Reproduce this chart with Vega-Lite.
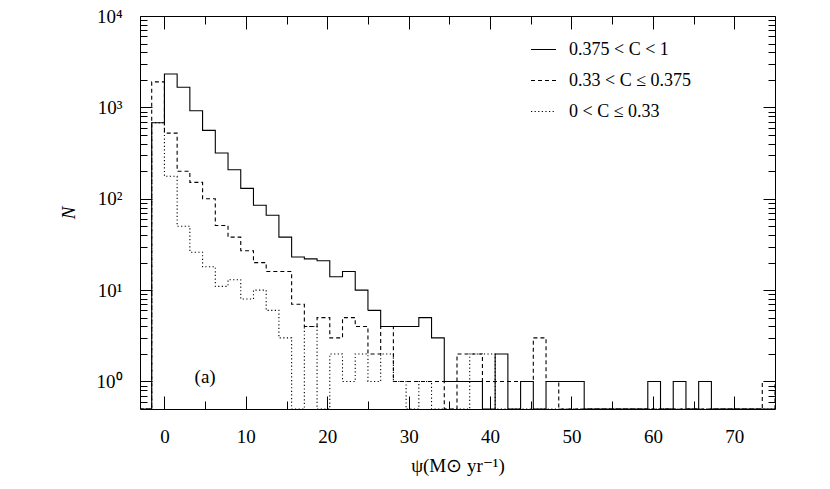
{
  "$schema": "https://vega.github.io/schema/vega-lite/v6.json",
  "width": 635,
  "height": 393,
  "autosize": {"type": "none"},
  "padding": {"left": 140, "top": 16, "right": 55, "bottom": 80},
  "config": {
    "view": {"stroke": "#000", "strokeWidth": 1},
    "font": "Liberation Serif",
    "axis": {
      "domain": false, "grid": false, "ticks": true,
      "tickColor": "#000", "tickWidth": 1, "tickOpacity": 1,
      "labelFont": "Liberation Serif", "labelFontSize": 19, "labelColor": "#000",
      "titleFont": "Liberation Serif", "titleFontSize": 19, "titleFontWeight": "normal", "titleColor": "#000"
    }
  },
  "layer": [
    {
      "data": {"values": [
        {"s": "0.375 < C < 1", "x": -3.125, "n": 0},
        {"s": "0.375 < C < 1", "x": -1.5625, "n": 680},
        {"s": "0.375 < C < 1", "x": 0, "n": 2320},
        {"s": "0.375 < C < 1", "x": 1.5625, "n": 1660},
        {"s": "0.375 < C < 1", "x": 3.125, "n": 920},
        {"s": "0.375 < C < 1", "x": 4.6875, "n": 560},
        {"s": "0.375 < C < 1", "x": 6.25, "n": 317},
        {"s": "0.375 < C < 1", "x": 7.8125, "n": 208},
        {"s": "0.375 < C < 1", "x": 9.375, "n": 130},
        {"s": "0.375 < C < 1", "x": 10.9375, "n": 85},
        {"s": "0.375 < C < 1", "x": 12.5, "n": 66},
        {"s": "0.375 < C < 1", "x": 14.0625, "n": 38},
        {"s": "0.375 < C < 1", "x": 15.625, "n": 23},
        {"s": "0.375 < C < 1", "x": 17.1875, "n": 22},
        {"s": "0.375 < C < 1", "x": 18.75, "n": 21},
        {"s": "0.375 < C < 1", "x": 20.3125, "n": 14},
        {"s": "0.375 < C < 1", "x": 21.875, "n": 16},
        {"s": "0.375 < C < 1", "x": 23.4375, "n": 10},
        {"s": "0.375 < C < 1", "x": 25, "n": 6},
        {"s": "0.375 < C < 1", "x": 26.5625, "n": 4},
        {"s": "0.375 < C < 1", "x": 28.125, "n": 4},
        {"s": "0.375 < C < 1", "x": 29.6875, "n": 4},
        {"s": "0.375 < C < 1", "x": 31.25, "n": 5},
        {"s": "0.375 < C < 1", "x": 32.8125, "n": 3},
        {"s": "0.375 < C < 1", "x": 34.375, "n": 1},
        {"s": "0.375 < C < 1", "x": 35.9375, "n": 1},
        {"s": "0.375 < C < 1", "x": 37.5, "n": 1},
        {"s": "0.375 < C < 1", "x": 39.0625, "n": 0},
        {"s": "0.375 < C < 1", "x": 40.625, "n": 2},
        {"s": "0.375 < C < 1", "x": 42.1875, "n": 0},
        {"s": "0.375 < C < 1", "x": 43.75, "n": 1},
        {"s": "0.375 < C < 1", "x": 45.3125, "n": 0},
        {"s": "0.375 < C < 1", "x": 46.875, "n": 1},
        {"s": "0.375 < C < 1", "x": 48.4375, "n": 1},
        {"s": "0.375 < C < 1", "x": 50, "n": 1},
        {"s": "0.375 < C < 1", "x": 51.5625, "n": 0},
        {"s": "0.375 < C < 1", "x": 53.125, "n": 0},
        {"s": "0.375 < C < 1", "x": 54.6875, "n": 0},
        {"s": "0.375 < C < 1", "x": 56.25, "n": 0},
        {"s": "0.375 < C < 1", "x": 57.8125, "n": 0},
        {"s": "0.375 < C < 1", "x": 59.375, "n": 1},
        {"s": "0.375 < C < 1", "x": 60.9375, "n": 0},
        {"s": "0.375 < C < 1", "x": 62.5, "n": 1},
        {"s": "0.375 < C < 1", "x": 64.0625, "n": 0},
        {"s": "0.375 < C < 1", "x": 65.625, "n": 1},
        {"s": "0.375 < C < 1", "x": 67.1875, "n": 0},
        {"s": "0.375 < C < 1", "x": 68.75, "n": 0},
        {"s": "0.375 < C < 1", "x": 70.3125, "n": 0},
        {"s": "0.375 < C < 1", "x": 71.875, "n": 0},
        {"s": "0.375 < C < 1", "x": 73.4375, "n": 0},
        {"s": "0.375 < C < 1", "x": 75, "n": 0},

        {"s": "0.33 < C ≤ 0.375", "x": -3.125, "n": 0},
        {"s": "0.33 < C ≤ 0.375", "x": -1.5625, "n": 1900},
        {"s": "0.33 < C ≤ 0.375", "x": 0, "n": 523},
        {"s": "0.33 < C ≤ 0.375", "x": 1.5625, "n": 200},
        {"s": "0.33 < C ≤ 0.375", "x": 3.125, "n": 151},
        {"s": "0.33 < C ≤ 0.375", "x": 4.6875, "n": 100},
        {"s": "0.33 < C ≤ 0.375", "x": 6.25, "n": 51},
        {"s": "0.33 < C ≤ 0.375", "x": 7.8125, "n": 38},
        {"s": "0.33 < C ≤ 0.375", "x": 9.375, "n": 27},
        {"s": "0.33 < C ≤ 0.375", "x": 10.9375, "n": 20},
        {"s": "0.33 < C ≤ 0.375", "x": 12.5, "n": 16},
        {"s": "0.33 < C ≤ 0.375", "x": 14.0625, "n": 16},
        {"s": "0.33 < C ≤ 0.375", "x": 15.625, "n": 7},
        {"s": "0.33 < C ≤ 0.375", "x": 17.1875, "n": 4},
        {"s": "0.33 < C ≤ 0.375", "x": 18.75, "n": 5},
        {"s": "0.33 < C ≤ 0.375", "x": 20.3125, "n": 3},
        {"s": "0.33 < C ≤ 0.375", "x": 21.875, "n": 5},
        {"s": "0.33 < C ≤ 0.375", "x": 23.4375, "n": 4},
        {"s": "0.33 < C ≤ 0.375", "x": 25, "n": 2},
        {"s": "0.33 < C ≤ 0.375", "x": 26.5625, "n": 4},
        {"s": "0.33 < C ≤ 0.375", "x": 28.125, "n": 1},
        {"s": "0.33 < C ≤ 0.375", "x": 29.6875, "n": 1},
        {"s": "0.33 < C ≤ 0.375", "x": 31.25, "n": 1},
        {"s": "0.33 < C ≤ 0.375", "x": 32.8125, "n": 1},
        {"s": "0.33 < C ≤ 0.375", "x": 34.375, "n": 0},
        {"s": "0.33 < C ≤ 0.375", "x": 35.9375, "n": 2},
        {"s": "0.33 < C ≤ 0.375", "x": 37.5, "n": 2},
        {"s": "0.33 < C ≤ 0.375", "x": 39.0625, "n": 1},
        {"s": "0.33 < C ≤ 0.375", "x": 40.625, "n": 1},
        {"s": "0.33 < C ≤ 0.375", "x": 42.1875, "n": 1},
        {"s": "0.33 < C ≤ 0.375", "x": 43.75, "n": 1},
        {"s": "0.33 < C ≤ 0.375", "x": 45.3125, "n": 3},
        {"s": "0.33 < C ≤ 0.375", "x": 46.875, "n": 1},
        {"s": "0.33 < C ≤ 0.375", "x": 48.4375, "n": 0},
        {"s": "0.33 < C ≤ 0.375", "x": 50, "n": 0},
        {"s": "0.33 < C ≤ 0.375", "x": 51.5625, "n": 0},
        {"s": "0.33 < C ≤ 0.375", "x": 53.125, "n": 0},
        {"s": "0.33 < C ≤ 0.375", "x": 54.6875, "n": 0},
        {"s": "0.33 < C ≤ 0.375", "x": 56.25, "n": 0},
        {"s": "0.33 < C ≤ 0.375", "x": 57.8125, "n": 0},
        {"s": "0.33 < C ≤ 0.375", "x": 59.375, "n": 0},
        {"s": "0.33 < C ≤ 0.375", "x": 60.9375, "n": 0},
        {"s": "0.33 < C ≤ 0.375", "x": 62.5, "n": 0},
        {"s": "0.33 < C ≤ 0.375", "x": 64.0625, "n": 0},
        {"s": "0.33 < C ≤ 0.375", "x": 65.625, "n": 0},
        {"s": "0.33 < C ≤ 0.375", "x": 67.1875, "n": 0},
        {"s": "0.33 < C ≤ 0.375", "x": 68.75, "n": 0},
        {"s": "0.33 < C ≤ 0.375", "x": 70.3125, "n": 0},
        {"s": "0.33 < C ≤ 0.375", "x": 71.875, "n": 0},
        {"s": "0.33 < C ≤ 0.375", "x": 73.4375, "n": 1},
        {"s": "0.33 < C ≤ 0.375", "x": 75, "n": 0},

        {"s": "0 < C ≤ 0.33", "x": -3.125, "n": 0},
        {"s": "0 < C ≤ 0.33", "x": -1.5625, "n": 680},
        {"s": "0 < C ≤ 0.33", "x": 0, "n": 176},
        {"s": "0 < C ≤ 0.33", "x": 1.5625, "n": 50},
        {"s": "0 < C ≤ 0.33", "x": 3.125, "n": 26},
        {"s": "0 < C ≤ 0.33", "x": 4.6875, "n": 18},
        {"s": "0 < C ≤ 0.33", "x": 6.25, "n": 11},
        {"s": "0 < C ≤ 0.33", "x": 7.8125, "n": 13},
        {"s": "0 < C ≤ 0.33", "x": 9.375, "n": 8},
        {"s": "0 < C ≤ 0.33", "x": 10.9375, "n": 10},
        {"s": "0 < C ≤ 0.33", "x": 12.5, "n": 6},
        {"s": "0 < C ≤ 0.33", "x": 14.0625, "n": 3},
        {"s": "0 < C ≤ 0.33", "x": 15.625, "n": 0},
        {"s": "0 < C ≤ 0.33", "x": 17.1875, "n": 4},
        {"s": "0 < C ≤ 0.33", "x": 18.75, "n": 0},
        {"s": "0 < C ≤ 0.33", "x": 20.3125, "n": 2},
        {"s": "0 < C ≤ 0.33", "x": 21.875, "n": 1},
        {"s": "0 < C ≤ 0.33", "x": 23.4375, "n": 2},
        {"s": "0 < C ≤ 0.33", "x": 25, "n": 1},
        {"s": "0 < C ≤ 0.33", "x": 26.5625, "n": 2},
        {"s": "0 < C ≤ 0.33", "x": 28.125, "n": 1},
        {"s": "0 < C ≤ 0.33", "x": 29.6875, "n": 0},
        {"s": "0 < C ≤ 0.33", "x": 31.25, "n": 1},
        {"s": "0 < C ≤ 0.33", "x": 32.8125, "n": 0},
        {"s": "0 < C ≤ 0.33", "x": 34.375, "n": 0},
        {"s": "0 < C ≤ 0.33", "x": 35.9375, "n": 0},
        {"s": "0 < C ≤ 0.33", "x": 37.5, "n": 2},
        {"s": "0 < C ≤ 0.33", "x": 39.0625, "n": 2},
        {"s": "0 < C ≤ 0.33", "x": 40.625, "n": 0},
        {"s": "0 < C ≤ 0.33", "x": 42.1875, "n": 0},
        {"s": "0 < C ≤ 0.33", "x": 43.75, "n": 0},
        {"s": "0 < C ≤ 0.33", "x": 45.3125, "n": 0},
        {"s": "0 < C ≤ 0.33", "x": 46.875, "n": 0},
        {"s": "0 < C ≤ 0.33", "x": 48.4375, "n": 0},
        {"s": "0 < C ≤ 0.33", "x": 50, "n": 0},
        {"s": "0 < C ≤ 0.33", "x": 75, "n": 0}
      ]},
      "mark": {"type": "line", "interpolate": "step-after", "clip": true, "color": "#000", "strokeWidth": 1.1, "invalid": "show"},
      "encoding": {
        "x": {
          "field": "x", "type": "quantitative",
          "scale": {"domain": [-3, 75], "nice": false, "zero": false},
          "axis": {
            "orient": "bottom", "offset": -13, "tickSize": 13,
            "values": [0, 10, 20, 30, 40, 50, 60, 70],
            "labelPadding": 18, "labelFlush": false,
            "title": "ψ(M⊙ yr⁻¹)", "titlePadding": 10
          }
        },
        "y": {
          "field": "n", "type": "quantitative",
          "scale": {"type": "log", "domain": [0.5, 10000], "clamp": true, "nice": false},
          "axis": {
            "orient": "left", "offset": -12, "tickSize": 12,
            "values": [1, 10, 100, 1000, 10000],
            "labelExpr": "datum.value == 1 ? '10⁰' : datum.value == 10 ? '10¹' : datum.value == 100 ? '10²' : datum.value == 1000 ? '10³' : '10⁴'",
            "labelPadding": 18, "labelFlush": false,
            "title": "N", "titleFontStyle": "italic", "titlePadding": 18
          }
        },
        "strokeDash": {
          "field": "s", "type": "nominal",
          "scale": {"domain": ["0.375 < C < 1", "0.33 < C ≤ 0.375", "0 < C ≤ 0.33"], "range": [[1, 0], [4, 3], [1.2, 2.4]]},
          "legend": {
            "orient": "none", "legendX": 390, "legendY": 20,
            "title": null, "padding": 0,
            "symbolType": "stroke", "symbolSize": 625, "symbolStrokeWidth": 1.1, "symbolStrokeColor": "#000",
            "labelFont": "Liberation Serif", "labelFontSize": 18, "labelColor": "#000", "labelOffset": 12, "labelLimit": 300,
            "rowPadding": 8
          }
        }
      }
    },
    {
      "data": {"values": [{"label": "(a)"}]},
      "mark": {"type": "text", "font": "Liberation Serif", "fontSize": 19, "baseline": "middle", "align": "center", "color": "#000"},
      "encoding": {
        "text": {"field": "label"},
        "x": {
          "datum": 5, "type": "quantitative",
          "scale": {"domain": [-3, 75], "nice": false, "zero": false},
          "axis": {"orient": "top", "offset": -13, "tickSize": 13, "values": [0, 10, 20, 30, 40, 50, 60, 70], "labels": false, "title": null}
        },
        "y": {
          "datum": 1.12, "type": "quantitative",
          "scale": {"type": "log", "domain": [0.5, 10000], "clamp": true, "nice": false},
          "axis": {"orient": "right", "offset": -12, "tickSize": 12, "values": [1, 10, 100, 1000, 10000], "labels": false, "title": null}
        }
      }
    },
    {
      "data": {"values": [{}]},
      "mark": {"type": "point", "opacity": 0},
      "encoding": {
        "x": {
          "datum": 0, "type": "quantitative",
          "scale": {"domain": [-3, 75], "nice": false, "zero": false},
          "axis": {"orient": "bottom", "offset": -8, "tickSize": 8, "values": [5, 15, 25, 35, 45, 55, 65], "labels": false, "title": null}
        },
        "y": {
          "datum": 1, "type": "quantitative",
          "scale": {"type": "log", "domain": [0.5, 10000], "clamp": true, "nice": false},
          "axis": {"orient": "left", "offset": -7, "tickSize": 7, "values": [0.6, 0.7, 0.8, 0.9, 2, 3, 4, 5, 6, 7, 8, 9, 20, 30, 40, 50, 60, 70, 80, 90, 200, 300, 400, 500, 600, 700, 800, 900, 2000, 3000, 4000, 5000, 6000, 7000, 8000, 9000], "labels": false, "title": null}
        }
      }
    },
    {
      "data": {"values": [{}]},
      "mark": {"type": "point", "opacity": 0},
      "encoding": {
        "x": {
          "datum": 0, "type": "quantitative",
          "scale": {"domain": [-3, 75], "nice": false, "zero": false},
          "axis": {"orient": "top", "offset": -8, "tickSize": 8, "values": [5, 15, 25, 35, 45, 55, 65], "labels": false, "title": null}
        },
        "y": {
          "datum": 1, "type": "quantitative",
          "scale": {"type": "log", "domain": [0.5, 10000], "clamp": true, "nice": false},
          "axis": {"orient": "right", "offset": -7, "tickSize": 7, "values": [0.6, 0.7, 0.8, 0.9, 2, 3, 4, 5, 6, 7, 8, 9, 20, 30, 40, 50, 60, 70, 80, 90, 200, 300, 400, 500, 600, 700, 800, 900, 2000, 3000, 4000, 5000, 6000, 7000, 8000, 9000], "labels": false, "title": null}
        }
      }
    }
  ],
  "resolve": {"axis": {"x": "independent", "y": "independent"}}
}
